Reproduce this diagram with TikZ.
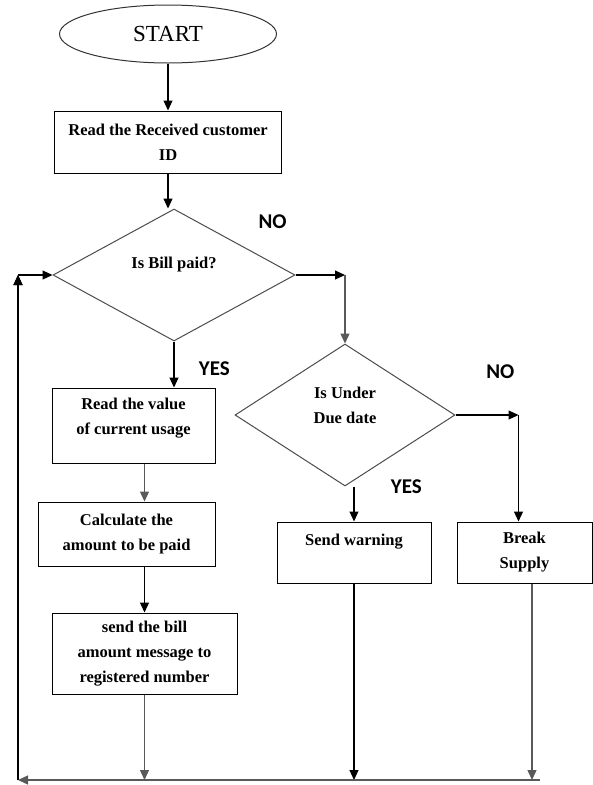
\documentclass[tikz,border=0pt]{standalone}
\usepackage{fontspec}
\setmainfont{Liberation Serif}
\newfontfamily\yesnofont{Carlito}
\usetikzlibrary{arrows.meta, positioning, shapes.geometric}

\begin{document}
\begin{tikzpicture}[>={Triangle[length=10pt,width=9pt]}, on grid, line width=1.1pt]
    \tikzstyle{block}=[shape=rectangle, draw, line width=1pt, align=center, inner sep=0pt, font=\bfseries\fontsize{16.5}{25}\selectfont]
    \tikzstyle{decision}=[shape=diamond, draw=black!70, line width=1pt, align=center, inner sep=0pt, font=\bfseries\fontsize{16.5}{25}\selectfont]
    \tikzstyle{answer}=[font=\yesnofont\bfseries\fontsize{21}{21}\selectfont]
    \tikzstyle{faint}=[draw=black!65, line width=1.3pt]

    \useasboundingbox (0pt,0pt) rectangle (593pt,-785pt);

    \node[shape=ellipse, draw=black!80, line width=1pt, minimum width=217pt, minimum height=58pt, font=\fontsize{23}{23}\selectfont] (start) at (168pt,-34pt) {START};
    \node[block, below=108pt of start, minimum width=227pt, minimum height=62pt] (read) {Read the Received customer\\ID};
    \node[decision, below right=133pt and 6pt of read, minimum width=242pt, minimum height=132pt] (dec1) {Is Bill paid?\\ \mbox{}};

    \node[block, below left=150.5pt and 40.5pt of dec1, minimum width=163pt, minimum height=75pt] (value) {Read the value\\of current usage\\[-7pt] \mbox{}};
    \node[block, below left=108.5pt and 7pt of value, minimum width=177pt, minimum height=64pt] (calc) {Calculate the\\amount to be paid};
    \node[block, below right=119.5pt and 18pt of calc, minimum width=185pt, minimum height=81pt] (send) {send the bill\\amount message to\\registered number};

    \node[decision, below right=140pt and 171pt of dec1, minimum width=220pt, minimum height=142pt] (dec2) {Is Under\\Due date\\[-5pt] \mbox{}};
    \node[block, below right=137.5pt and 9pt of dec2, minimum width=154pt, minimum height=61pt] (warn) {Send warning\\ \mbox{}};
    \node[block, right=170.5pt of warn, minimum width=135pt, minimum height=61pt] (brk) {Break\\Supply};

    \node[answer, above left=42pt and 5pt of dec1.east] (no1) {NO};
    \node[answer, below right=16pt and 21pt of dec1.south] (yes1) {YES};
    \node[answer, above right=32pt and 27pt of dec2.east] (no2) {NO};
    \node[answer, right=42pt of dec2.south] (yes2) {YES};

    \coordinate (j1) at (dec1.east -| dec2.north);
    \coordinate (j2) at ([xshift=-6pt]brk.north |- dec2.east);
    \coordinate (botR) at (540pt,-780pt);
    \coordinate (botL) at (18pt,-780pt);
    \coordinate (upL) at (botL |- dec1.west);

    \path[->,draw]
    (start) edge (read)
    (read.south) edge (read.south |- dec1.north)
    (dec1.south) edge (dec1.south |- value.north)
    (dec1.east) edge (j1)
    (dec2.east) edge (j2)
    (j2) edge (j2 |- brk.north)
    (warn.north |- dec2.south) edge (warn.north)
    (calc.south -| send) edge (send.north)
    (warn.south) edge (warn.south |- botR)
    (botL) edge (upL)
    (upL) edge (dec1.west)
    ;

    \draw[->,faint] (j1) -- (dec2.north);
    \draw[->,faint] (value.south -| send) -- (calc.north -| send);
    \draw[->,faint] (send.south) -- (send.south |- botR);
    \draw[->,faint] ([xshift=7.5pt]brk.south) -- ([xshift=7.5pt]brk.south |- botR);
    \draw[->,faint] (botR) -- (botL);

\end{tikzpicture}
\end{document}
